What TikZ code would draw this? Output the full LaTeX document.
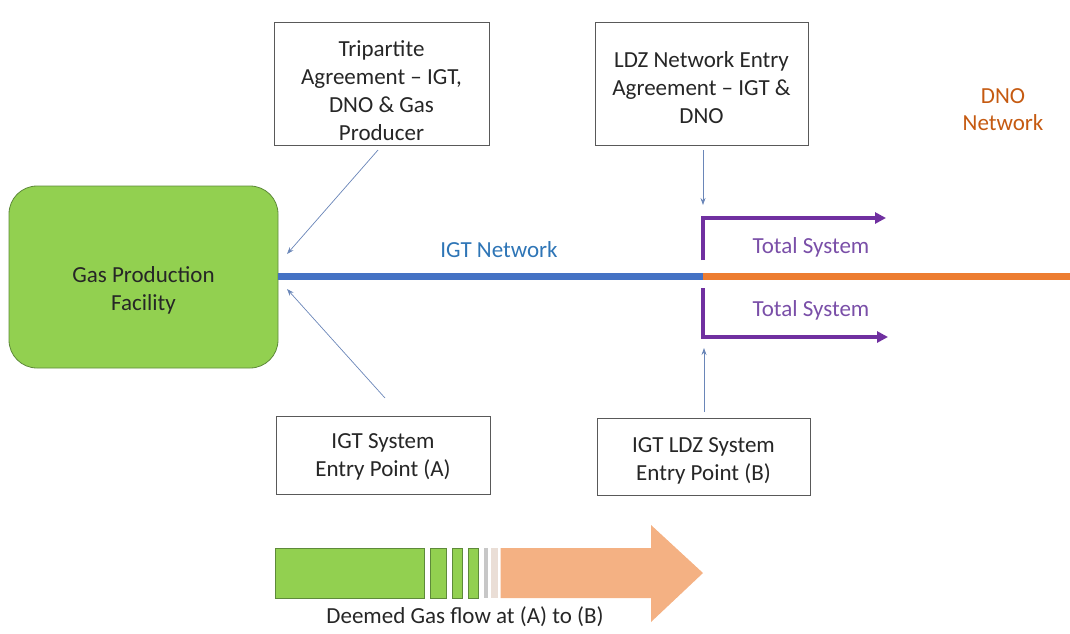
\documentclass[tikz,border=0pt]{standalone}
\usepackage{fontspec}
\setmainfont{Carlito}
\usetikzlibrary{arrows.meta}
\definecolor{gfill}{HTML}{92D050}
\definecolor{gborder}{HTML}{5E8A3A}
\definecolor{netblue}{HTML}{4472C4}
\definecolor{netorange}{HTML}{ED7D31}
\definecolor{purp}{HTML}{7030A0}
\definecolor{thin}{HTML}{6A86B8}
\definecolor{boxline}{HTML}{595959}
\definecolor{txt}{HTML}{262626}
\definecolor{igttxt}{HTML}{2E75B6}
\definecolor{dnotxt}{HTML}{C55A11}
\definecolor{tstxt}{HTML}{7A4FA8}
\definecolor{flow}{HTML}{F4B183}
\tikzset{
  every node/.style={font=\fontsize{23}{28}\selectfont, text=txt},
  infobox/.style={draw=boxline, line width=0.8pt, fill=white, inner sep=0pt},
  boxtext/.style={align=center, inner sep=0pt},
  thinarrow/.style={draw=thin, line width=0.7pt, -{Stealth[length=7pt,width=5pt]}},
  purparrow/.style={draw=purp, line width=3.8pt, -{Triangle[length=11pt,width=11pt]}},
  barbox/.style={draw=gborder, line width=0.6pt, fill=gfill},
}
\begin{document}
\begin{tikzpicture}[x=1pt,y=-1pt]
\useasboundingbox (0,0) rectangle (1070,633);
% boxes
\node[infobox, minimum width=215pt, minimum height=123pt] (trip) at (381.5,83.5) {};
\node[boxtext] (tripT) at (381.5,91) {Tripartite\\Agreement -- IGT,\\DNO \& Gas\\Producer};
\node[infobox, minimum width=213pt, minimum height=123pt] (ldz) at (701.5,83.5) {};
\node[boxtext] (ldzT) at (701.5,88) {LDZ Network Entry\\Agreement -- IGT \&\\DNO};
\node[infobox, minimum width=214pt, minimum height=78pt] (igtA) at (383,455) {};
\node[boxtext] (igtAT) at (383,457) {IGT System\\Entry Point (A)};
\node[infobox, minimum width=213pt, minimum height=77pt] (igtB) at (703.5,456.5) {};
\node[boxtext] (igtBT) at (703.5,461) {IGT LDZ System\\Entry Point (B)};
\node[draw=gborder, line width=0.8pt, fill=gfill, rounded corners=28pt,
      minimum width=269pt, minimum height=182pt] (gas) at (143.5,277) {};
\node[boxtext] (gasT) at (143.5,290) {Gas Production\\Facility};
% labels
\node[text=igttxt] (igtnet) at (499,250) {IGT Network};
\node[text=dnotxt, align=center, font=\fontsize{23}{27}\selectfont] (dnonet) at (1003,110) {DNO\\Network};
\node[text=tstxt] (ts1) at (811,247) {Total System};
\node[text=tstxt] (ts2) at (811,310) {Total System};
% network line
\coordinate (junc) at (703,276.5);
\coordinate (netend) at (1070,276.5);
\draw[netorange, line width=6.5pt] (junc) -- (netend);
\draw[netblue, line width=6.5pt] (gas.east |- junc) -- (junc);
% thin arrows
\coordinate (t1s) at (378,150);
\coordinate (t1e) at (287,254);
\coordinate (t2s) at (385,398);
\coordinate (t2e) at (287,289);
\coordinate (t3s) at (703,150);
\coordinate (t3e) at (703,205);
\coordinate (t4s) at (704,412);
\coordinate (t4e) at (704,348);
\draw[thinarrow] (t1s) -- (t1e);
\draw[thinarrow] (t2s) -- (t2e);
\draw[thinarrow] (t3s) -- (t3e);
\draw[thinarrow] (t4s) -- (t4e);
% purple arrows
\coordinate (p1s) at (703,260);
\coordinate (p1c) at (703,218);
\coordinate (p1e) at (886,218);
\coordinate (p2s) at (703,288);
\coordinate (p2c) at (703,337);
\coordinate (p2e) at (888,337);
\draw[purparrow] (p1s) -- (p1c) -- (p1e);
\draw[purparrow] (p2s) -- (p2c) -- (p2e);
% deemed flow arrow
\fill[flow] (500.5,548) -- (651,548) -- (651,525) -- (703,573) -- (651,622) -- (651,598) -- (500.5,598) -- cycle;
\fill[black!22] (484,548) rectangle (488,598);
\fill[flow!70!black!25] (490.5,548) rectangle (498,598);
\draw[barbox] (275,548) rectangle (424,598);
\draw[barbox] (430,548) rectangle (446,598);
\draw[barbox] (452,548) rectangle (462,598);
\draw[barbox] (468,548) rectangle (478,598);
\node (deemed) at (465,617) {Deemed Gas flow at (A) to (B)};
\end{tikzpicture}
\end{document}
